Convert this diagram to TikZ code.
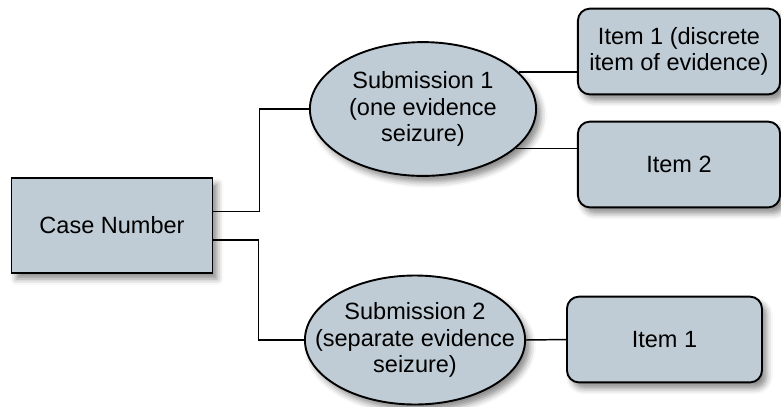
\documentclass[tikz,border=0pt]{standalone}
\usepackage{fontspec}
\setmainfont{Liberation Sans}
\usepackage{tikz}
\usetikzlibrary{shapes,positioning,shadows,shadows.blur}

\definecolor{boxfill}{RGB}{191,204,213}

\begin{document}
\begin{tikzpicture}[
        font=\fontsize{11.15}{12.6}\selectfont,
        every node/.style={align=center, line width=0.9pt, fill=boxfill, draw=black,
            blur shadow={shadow xshift=0.8mm, shadow yshift=-1mm, shadow blur radius=1mm, shadow opacity=45}},
        casebox/.style={rectangle, minimum width=3.35cm, minimum height=1.58cm},
        subbox/.style={ellipse, inner xsep=-0.6cm, inner ysep=0pt},
        itembox/.style={rectangle, rounded corners=0.2cm, minimum height=1.43cm},
        link/.style={line width=0.7pt}
    ]
            % fix the margins
            \useasboundingbox (0,0) rectangle (13.017,6.767);

            % case and submissions
            \node[casebox] (case) at (1.867,3.008) {Case Number};
            \node[subbox, minimum width=3.77cm, minimum height=2.23cm] (sub1) at (7.05,4.95) {Submission 1\\(one evidence\\seizure)};
            \node[subbox, minimum width=3.67cm, minimum height=2.15cm] (sub2) at (6.917,1.1) {Submission 2\\(separate evidence\\seizure)};

            % items
            \node[itembox, minimum width=3.37cm] (itemA) at (11.317,5.908) {Item 1 (discrete\\item of evidence)};
            \node[itembox, minimum width=3.37cm] (itemB) at (11.317,4.025) {Item 2};
            \node[itembox, minimum width=3.25cm] (itemC) at (11.075,1.108) {Item 1};

            % connectors
            \draw[link] ([yshift=2.3mm]case.east) -- ++(0.77,0) |- (sub1.west);
            \draw[link] ([yshift=-2.4mm]case.east) -- ++(0.75,0) |- (sub2.west);
            \draw[link] (sub1.21) -- (sub1.21 -| itemA.west);
            \draw[link] (sub1.-23) -- (sub1.-23 -| itemB.west);
            \draw[link] (sub2.east) -- (itemC.west);
        \end{tikzpicture}
\end{document}
